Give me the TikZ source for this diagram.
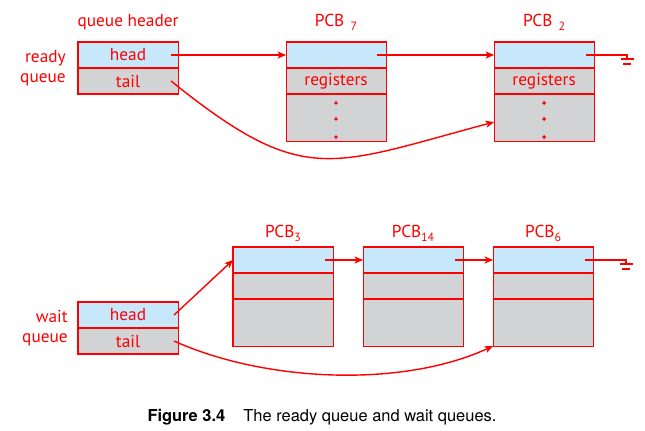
\documentclass[tikz,border=0pt]{standalone}
\usepackage{fontspec}
\setmainfont{PT Sans}
\newfontfamily\capfont{TeX Gyre Heros}
\usepackage{tikz}
\usetikzlibrary{arrows.meta,positioning,calc}
\definecolor{qred}{HTML}{FF0000}
\definecolor{linkblue}{HTML}{C7E8FA}
\definecolor{pcbgray}{HTML}{D1D3D4}

% subscript of a PCB label
\newcommand{\pcbsub}[2][0pt]{\hspace{#1}\raisebox{-3pt}{\fontsize{8.5}{10}\selectfont #2}}
% null pointer drawn as a ground sign
\newcommand{\groundsym}[1]{%
  \draw[nullline] ($(#1.east)+(-8,0)$) -- ++(41,0) -- ++(0,4)
     ++(-6.5,0) -- ++(13,0) ++(-2.5,5) -- ++(-8,0);}

\begin{document}
\begin{tikzpicture}[
    x=0.025cm, y=-0.025cm,
    font=\fontsize{12.3}{14}\selectfont,
    cell/.style={draw=qred, line width=0.75pt, minimum width=2.5cm, minimum height=0.65cm,
                 inner sep=0pt, outer sep=0pt, text=qred},
    linkcell/.style={cell, fill=linkblue},
    datacell/.style={cell, fill=pcbgray},
    restcell/.style={datacell, minimum height=1.175cm},
    lbl/.style={text=qred, inner sep=0pt},
    link/.style={-{Stealth[length=6pt, width=5pt, inset=1.5pt]}, draw=qred, line width=1pt},
    nullline/.style={draw=qred, line width=1.3pt}
]
    \path[fill=white] (0,0) rectangle (645,430);

    % ready queue
    \node[linkcell, anchor=north west] (readyhead) at (78,42) {head};
    \node[datacell, below=0pt of readyhead] (readytail) {tail};
    \node[linkcell, right=2.7cm of readyhead] (pcb7link) {};
    \node[datacell, below=0pt of pcb7link] (pcb7regs) {registers};
    \node[restcell, below=0pt of pcb7regs] (pcb7rest) {};
    \node[linkcell, right=2.7cm of pcb7link] (pcb2link) {};
    \node[datacell, below=0pt of pcb2link] (pcb2regs) {registers};
    \node[restcell, below=0pt of pcb2regs] (pcb2rest) {};

    \node[lbl, anchor=base] (readytitle) at ($(readyhead.north)+(0,-16)$) {queue header};
    \node[lbl, anchor=base] (pcb7title) at ($(pcb7link.north)+(0,-16)$) {PCB\pcbsub[4.5pt]{7}};
    \node[lbl, anchor=base] (pcb2title) at ($(pcb2link.north)+(0,-16)$) {PCB\pcbsub[4.5pt]{2}};
    \node[lbl, align=right, anchor=east] (readylbl) at ($(readyhead.south west)+(-12,0)$) {ready\\queue};

    \foreach \pcb in {pcb7rest,pcb2rest}
        \foreach \dy in {9,25,43}
            \fill[qred] ($(\pcb.north)+(0,\dy)$) circle[radius=1.35pt];

    \draw[link] ($(readyhead.east)+(-7,0)$) -- (pcb7link.west);
    \draw[link] ($(pcb7link.east)+(-9,0)$) -- (pcb2link.west);
    \groundsym{pcb2link}
    \draw[link] ($(readytail.east)+(-7,0)$) .. controls +(133,107) and +(-165,44) .. ($(pcb2rest.west)+(0,4.5)$);

    % wait queue
    \node[linkcell, anchor=north west] (waithead) at (78,302) {head};
    \node[datacell, below=0pt of waithead] (waittail) {tail};
    \node[linkcell, anchor=north west] (pcb3link) at (233,247) {};
    \node[datacell, below=0pt of pcb3link] (pcb3regs) {};
    \node[restcell, below=0pt of pcb3regs] (pcb3rest) {};
    \node[linkcell, right=0.75cm of pcb3link] (pcb14link) {};
    \node[datacell, below=0pt of pcb14link] (pcb14regs) {};
    \node[restcell, below=0pt of pcb14regs] (pcb14rest) {};
    \node[linkcell, right=0.75cm of pcb14link] (pcb6link) {};
    \node[datacell, below=0pt of pcb6link] (pcb6regs) {};
    \node[restcell, below=0pt of pcb6regs] (pcb6rest) {};

    \node[lbl, anchor=base] (pcb3title) at ($(pcb3link.north)+(0,-10)$) {PCB\pcbsub{3}};
    \node[lbl, anchor=base] (pcb14title) at ($(pcb14link.north)+(0,-10)$) {PCB\pcbsub{14}};
    \node[lbl, anchor=base] (pcb6title) at ($(pcb6link.north)+(0,-10)$) {PCB\pcbsub{6}};
    \node[lbl, align=right, anchor=east] (waitlbl) at ($(waithead.south west)+(-10,0)$) {wait\\queue};

    \draw[link] ($(waithead.east)+(-4,0)$) -- (pcb3link.west);
    \draw[link] ($(pcb3link.east)+(-8,0)$) -- (pcb14link.west);
    \draw[link] ($(pcb14link.east)+(-8,0)$) -- (pcb6link.west);
    \groundsym{pcb6link}
    \draw[link] ($(waittail.east)+(-4,0)$) .. controls +(91,41) and +(-91,42) .. (pcb6rest.south west);

    \node[anchor=base, font=\capfont\fontsize{11.7}{14}\selectfont] (caption) at (322,421)
        {\textbf{Figure 3.4}\hspace{1.1em}The ready queue and wait queues.};
\end{tikzpicture}
\end{document}
